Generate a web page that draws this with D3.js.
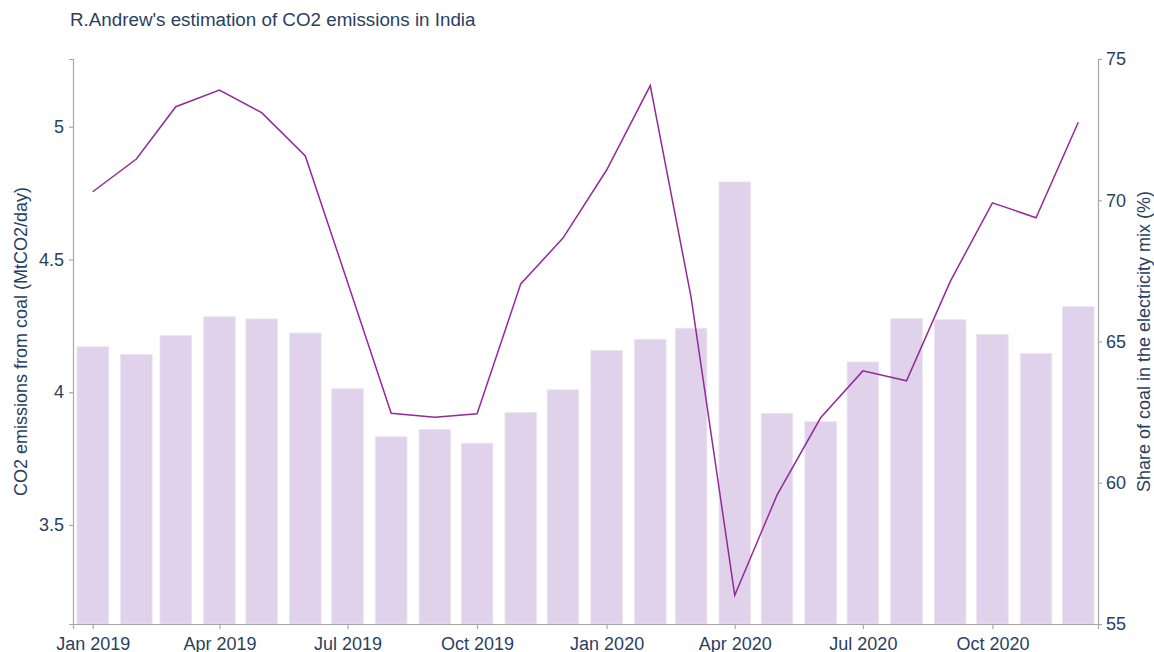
<!DOCTYPE html>
<html>
<head>
<meta charset="utf-8">
<script src="https://cdn.jsdelivr.net/npm/d3@7"></script>
<style>
  body { margin: 0; background: #fff; }
  svg text { font-family: "Liberation Sans", Arial, sans-serif; fill: #2a3f5f; }
</style>
</head>
<body>
<div id="vis"></div>
<script>
// monthly data, Jan 2019 .. Dec 2020
var months = ["2019-01","2019-02","2019-03","2019-04","2019-05","2019-06","2019-07","2019-08","2019-09","2019-10","2019-11","2019-12",
              "2020-01","2020-02","2020-03","2020-04","2020-05","2020-06","2020-07","2020-08","2020-09","2020-10","2020-11","2020-12"];
var co2Coal = [4.171,4.142,4.213,4.284,4.276,4.223,4.013,3.832,3.860,3.808,3.923,4.009,
               4.157,4.199,4.241,4.792,3.920,3.889,4.114,4.277,4.273,4.218,4.145,4.322];
var coalShare = [70.30,71.46,73.31,73.90,73.10,71.57,67.10,62.46,62.32,62.44,67.04,68.66,
                 71.07,74.06,66.56,56.02,59.56,62.30,63.96,63.61,67.12,69.91,69.38,72.76];
var leftTicks = [3.5,4,4.5,5];
var rightTicks = [55,60,65,70,75];

var W = 1154, H = 652;
var m = {left:73, right:1098, top:59, bottom:624};
var parse = d3.timeParse("%Y-%m");
var dates = months.map(parse);

var svg = d3.select("#vis").append("svg").attr("width",W).attr("height",H);

var x = d3.scaleTime()
    .domain([d3.timeDay.offset(dates[0],-14), d3.timeDay.offset(dates[dates.length-1],14)])
    .range([m.left, m.right]);
var yL = d3.scaleLinear().domain([3.127,5.255]).range([m.bottom, m.top]);
var yR = d3.scaleLinear().domain([55,75]).range([m.bottom, m.top]);

// bar width = 0.8 of the shortest month gap
var gap = d3.min(d3.pairs(dates), function(p){ return x(p[1]) - x(p[0]); });
var bw = gap*0.8;

svg.append("g").selectAll("rect")
    .data(co2Coal).enter()
    .append("rect")
    .attr("x", function(d,i){ return x(dates[i]) - bw/2; })
    .attr("y", function(d){ return yL(d); })
    .attr("width", bw)
    .attr("height", function(d){ return m.bottom - yL(d); })
    .attr("fill","#dfd2ea")
    .attr("stroke","#ebe3f2")
    .attr("stroke-width",0.8);

var line = d3.line()
    .x(function(d,i){ return x(dates[i]); })
    .y(function(d){ return yR(d); });
svg.append("path")
    .datum(coalShare)
    .attr("d", line)
    .attr("fill","none")
    .attr("stroke","#932a98")
    .attr("stroke-width",1.5);

// axes
function styleAxis(g){
    g.select(".domain").attr("stroke","#a8a8a8").attr("stroke-width",1.2);
    g.selectAll(".tick line").attr("stroke","#a8a8a8").attr("stroke-width",1.2);
    g.selectAll(".tick text").style("font-size","18px").attr("fill","#2a3f5f");
}

var xAx = svg.append("g")
    .attr("transform","translate(0,"+m.bottom+")")
    .call(d3.axisBottom(x).ticks(d3.timeMonth.every(3)).tickFormat(d3.timeFormat("%b %Y")).tickSizeOuter(0).tickSize(5).tickPadding(8));
styleAxis(xAx);

var lAx = svg.append("g")
    .attr("transform","translate("+m.left+",0)")
    .call(d3.axisLeft(yL).tickValues(leftTicks).tickFormat(d3.format("")).tickSizeOuter(0).tickSize(4).tickPadding(5));
styleAxis(lAx);

var rAx = svg.append("g")
    .attr("transform","translate("+m.right+",0)")
    .call(d3.axisRight(yR).tickValues(rightTicks).tickSizeOuter(0).tickSize(4).tickPadding(4));
styleAxis(rAx);

// titles
svg.append("text")
    .attr("x",70).attr("y",26)
    .style("font-size","18.8px")
    .text("R.Andrew's estimation of CO2 emissions in India");

svg.append("text")
    .attr("transform","translate(27,"+((m.top+m.bottom)/2)+") rotate(-90)")
    .attr("text-anchor","middle")
    .style("font-size","18px")
    .text("CO2 emissions from coal (MtCO2/day)");

svg.append("text")
    .attr("transform","translate(1150,"+((m.top+m.bottom)/2)+") rotate(-90)")
    .attr("text-anchor","middle")
    .style("font-size","18px")
    .text("Share of coal in the electricity mix (%)");
</script>
</body>
</html>
